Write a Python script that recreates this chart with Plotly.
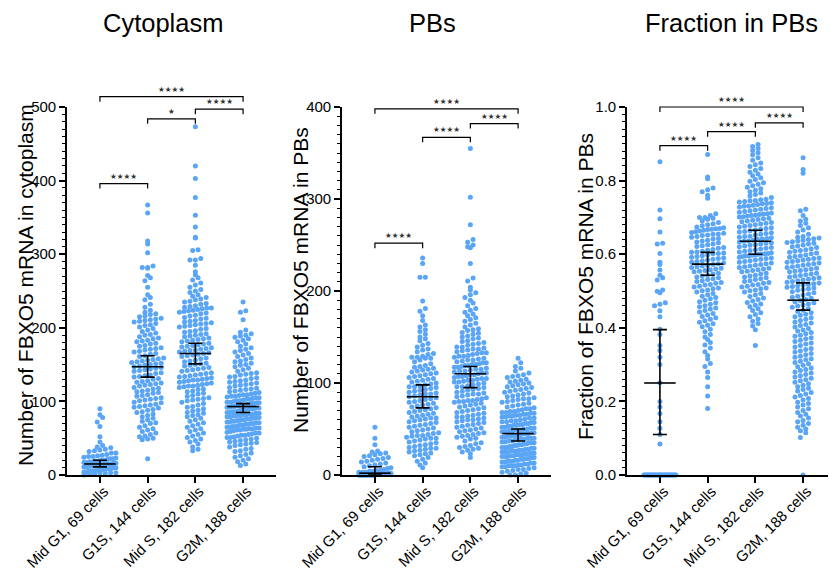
import plotly.graph_objects as go

# ---- data ----
groups = ["Mid G1, 69 cells", "G1S, 144 cells", "Mid S, 182 cells", "G2M, 188 cells"]

# Cytoplasm counts
cyto_mid_g1 = [90, 82, 78, 72, 66, 52, 45, 40, 38, 37, 35, 34, 33, 32, 30, 30, 28, 27, 26, 25, 25, 24, 23,
               22, 22, 21, 20, 20, 19, 19, 18, 18, 17, 17, 16, 16, 15, 15, 15, 14, 14, 13, 13, 12, 12, 11,
               11, 10, 10, 9, 9, 8, 8, 7, 7, 6, 6, 5, 5, 5, 4, 4, 3, 3, 2, 2, 1, 1, 0]
cyto_g1s = [367, 356, 318, 314, 302, 284, 282, 282, 281, 271, 268, 264, 255, 245, 241,
            238, 232, 228, 224, 221,
            219, 218, 216, 215, 213, 212, 211, 210, 209, 208, 206, 204, 203, 201,
            199, 197, 195, 193, 191, 190, 188, 186, 185, 183, 182, 181,
            179, 178, 176, 175, 173, 172, 171, 170, 168, 167, 165, 164, 162, 161,
            159, 158, 157, 156, 155, 154, 153, 152, 151, 150, 149, 148, 147, 146, 145, 144, 143, 142, 141,
            139, 138, 136, 135, 134, 133, 131, 130, 128, 127, 126, 125, 124, 123, 122, 121,
            119, 118, 117, 115, 114, 113, 112, 111, 109, 108, 107, 105, 104, 103, 102, 101,
            99, 98, 96, 95, 94, 93, 92, 91, 89, 88, 86, 85, 83, 81,
            79, 77, 75, 73, 71, 70, 67, 65, 63, 61,
            59, 57, 55, 53, 52, 50, 49, 48,
            22]
cyto_mid_s = [473, 420, 403, 377, 353, 337, 323, 322, 306, 305, 294, 292, 292, 285,
              276, 272, 268, 265, 261, 258, 255, 252, 250, 248, 245, 243, 241,
              239, 238, 236, 235, 233, 232, 230, 229, 228, 227, 227, 226, 225, 224, 223, 222, 221, 220,
              219, 217, 216, 214, 213, 212, 210, 209, 208, 207, 206, 205, 204, 203, 202, 201,
              199, 198, 196, 195, 194, 192, 191, 190, 189, 188, 186, 185, 184, 183, 182, 181,
              179, 178, 177, 176, 175, 174, 173, 172, 171, 170, 169, 168, 167, 166, 165, 164, 163, 162, 161,
              159, 158, 156, 155, 154, 152, 151, 150, 149, 148, 146, 145, 144, 143, 142, 141,
              139, 138, 137, 136, 135, 134, 133, 132, 131, 130, 129, 129, 128, 127, 126, 125, 124, 123,
              122, 121, 121, 120,
              119, 117, 116, 114, 113, 111, 110, 108, 107, 105, 104, 103, 102, 101,
              99, 97, 95, 93, 92, 90, 88, 87, 85, 84, 82, 81,
              79, 77, 75, 73, 71, 69, 67, 65, 63, 61,
              59, 57, 55, 53, 51, 49, 47, 45, 42,
              38, 35, 33]
cyto_g2m = [235, 223, 221, 211, 197, 194, 192, 190, 189, 187, 185, 183, 181, 178, 175, 173, 171,
            169, 167, 165, 163, 161, 159, 157, 155, 154, 152, 150, 149, 147, 145, 143, 141,
            139, 138, 137, 136, 134, 133, 132, 131, 129, 128, 127, 126, 125, 124, 123, 122, 121,
            119, 118, 117, 116, 115, 114, 113, 112, 111, 110,
            109, 109, 108, 107, 107, 106, 105, 105, 104, 103, 103, 102, 101, 101, 100,
            99, 99, 98, 98, 97, 97, 96, 96, 95, 95, 94, 94, 93, 93, 92, 92, 91, 91, 90, 90,
            89, 89, 88, 88, 87, 86, 86, 85, 85, 84, 84, 83, 83, 82, 82, 81, 81, 80,
            79, 79, 78, 78, 77, 77, 76, 76, 75, 75, 74, 74, 73, 73, 72, 72, 71, 71, 70, 70,
            69, 69, 68, 68, 67, 66, 66, 65, 65, 64, 64, 63, 63, 62, 62, 61, 61, 60,
            59, 58, 57, 57, 56, 55, 54, 54, 53, 52, 51, 51, 50,
            49, 48, 47, 46, 45, 44, 43, 42, 41, 40,
            38, 36, 35, 33, 32, 30, 28, 26, 24, 22, 20, 18, 15, 13]

# PB counts
pbs_mid_g1 = [52, 40, 33, 26, 25, 24, 23, 22, 21, 20, 19, 18, 17, 16, 15, 14, 13, 12, 11, 10, 9, 8, 7, 6,
              5, 5, 4, 4, 3, 3, 3, 2, 2, 2, 2,
              1, 1, 1, 1, 1, 1, 1, 1, 1, 1, 1, 1, 1, 1,
              0, 0, 0, 0, 0, 0, 0, 0, 0, 0, 0, 0, 0, 0, 0, 0, 0, 0, 0, 0]
pbs_g1s = [236, 230, 215, 215, 189, 181, 178, 173, 168, 163, 161,
           158, 156, 153, 150, 148, 146, 143, 141,
           139, 137, 136, 134, 132, 131, 129, 128, 128, 127, 127, 125, 123, 121,
           119, 118, 117, 116, 115, 114, 113, 112, 111, 110, 109, 108, 107, 106, 105, 104, 103, 102, 101, 100,
           99, 98, 97, 96, 96, 95, 94, 93, 92, 91, 90, 89, 88, 88, 87, 86, 85, 84, 83, 82, 81, 80,
           79, 78, 77, 76, 75, 74, 73, 72, 71, 70, 69, 68, 67, 66, 65, 64, 63, 62, 62, 61, 60,
           59, 58, 57, 56, 55, 54, 53, 52, 51, 50, 49, 48, 47, 46, 45, 44, 43, 43, 42, 41, 40, 40,
           39, 38, 37, 36, 35, 34, 33, 32, 31, 30, 29, 29, 28, 27, 26, 25, 24, 23, 22, 21,
           19, 17, 15, 13, 11, 8]
pbs_mid_s = [355, 302, 272, 256, 253, 250, 248, 247, 230, 214, 211, 204, 201,
             198, 196, 193, 190, 187, 184, 181,
             179, 177, 175, 173, 171, 169, 167, 165, 163, 161,
             159, 158, 157, 155, 154, 153, 151, 150, 149, 148, 146, 145, 144, 143, 142, 141,
             139, 139, 138, 137, 137, 136, 135, 134, 133, 133, 132, 131, 130, 129, 129, 128, 127, 126,
             125, 125, 124, 123, 122, 122, 121, 120, 120,
             119, 119, 118, 117, 117, 116, 115, 115, 114, 113, 113, 112, 111, 111, 110, 109, 109, 108,
             107, 107, 106, 105, 105, 104, 103, 103, 102, 101, 101, 100,
             99, 98, 97, 96, 96, 95, 94, 93, 92, 91, 90, 89, 88, 88, 87, 86, 85, 84, 83, 82, 81, 81, 80, 80,
             79, 78, 77, 76, 75, 74, 73, 72, 71, 70, 69, 68, 67, 66, 65, 64, 63, 63, 62, 61, 60, 60,
             59, 58, 57, 56, 55, 54, 53, 52, 51, 50, 49, 48, 47, 46, 45, 44, 43, 42, 41, 40,
             39, 37, 35, 34, 32, 31, 30, 29, 28, 27, 25, 23, 19]
pbs_g2m = [127, 122, 118, 116, 113, 111, 109, 108, 107, 106, 104, 103, 102, 101, 100,
           99, 98, 97, 96, 95, 94, 93, 92, 91, 90, 89, 88, 87, 86, 85, 84, 83, 83, 82, 81, 80,
           79, 78, 77, 76, 75, 74, 73, 72, 72, 71, 70,
           69, 69, 68, 68, 67, 67, 66, 66, 65, 65, 64, 64, 63, 63, 62, 62, 61, 60,
           59, 59, 58, 58, 57, 57, 56, 56, 55, 55, 54, 54, 53, 53, 52, 52, 51, 51, 50, 50,
           49, 49, 48, 48, 47, 47, 46, 46, 45, 45, 45, 44, 44, 43, 43, 42, 42, 41, 41, 40, 40, 40,
           39, 39, 38, 38, 37, 37, 36, 36, 35, 35, 35, 34, 34, 33, 33, 32, 32, 31, 31, 30, 30, 30,
           29, 29, 28, 28, 27, 27, 26, 26, 26, 25, 25, 25, 24, 24, 23, 23, 22, 22, 22, 21, 21, 20, 20, 20,
           19, 19, 18, 18, 17, 17, 16, 16, 15, 15, 15, 14, 14, 13, 13, 12, 12, 11, 11, 10, 10, 10,
           9, 9, 8, 7, 6, 6, 5, 4, 3, 2, 1, 0, 0]

# Fraction in PBs
frac_mid_g1 = [0.851, 0.72, 0.696, 0.66, 0.63, 0.628, 0.602, 0.578, 0.572, 0.557, 0.543, 0.536, 0.53,
               0.503, 0.499, 0.495, 0.468, 0.464, 0.46, 0.446, 0.43, 0.396, 0.382, 0.352, 0.338, 0.32,
               0.30, 0.251, 0.20, 0.185, 0.167, 0.145, 0.127, 0.11, 0.084,
               0, 0, 0, 0, 0, 0, 0, 0, 0, 0, 0, 0, 0, 0, 0, 0, 0, 0, 0, 0, 0, 0, 0, 0, 0, 0, 0, 0, 0, 0,
               0, 0, 0, 0]
frac_g1s = [0.871, 0.81, 0.805, 0.78, 0.775, 0.77, 0.76, 0.752, 0.71, 0.705, 0.70, 0.70,
            0.698, 0.695, 0.69, 0.686, 0.683, 0.68, 0.677, 0.674, 0.672, 0.67, 0.669, 0.668, 0.667, 0.665,
            0.663, 0.661, 0.659, 0.657, 0.655, 0.654, 0.652, 0.651,
            0.648, 0.646, 0.643, 0.641, 0.638, 0.636, 0.633, 0.631, 0.628, 0.626, 0.623, 0.621, 0.618,
            0.616, 0.613, 0.611, 0.608, 0.606, 0.605, 0.603, 0.602, 0.601,
            0.598, 0.596, 0.594, 0.592, 0.59, 0.588, 0.586, 0.584, 0.582, 0.58, 0.578, 0.576, 0.574,
            0.572, 0.57, 0.568, 0.566, 0.564, 0.562, 0.56, 0.558, 0.556, 0.554, 0.552,
            0.548, 0.546, 0.543, 0.541, 0.538, 0.536, 0.533, 0.531, 0.528, 0.526, 0.523, 0.521, 0.518,
            0.516, 0.513, 0.511, 0.508, 0.506, 0.503, 0.501,
            0.497, 0.493, 0.49, 0.486, 0.482, 0.479, 0.475, 0.471, 0.468, 0.464, 0.46, 0.457, 0.454, 0.451,
            0.447, 0.443, 0.439, 0.435, 0.431, 0.427, 0.423, 0.419, 0.415, 0.411, 0.407, 0.403,
            0.396, 0.389, 0.382, 0.375, 0.368, 0.36, 0.353,
            0.345, 0.335, 0.325, 0.315, 0.303, 0.295, 0.28, 0.265, 0.24, 0.215, 0.181]
frac_mid_s = [0.898, 0.893, 0.887, 0.882, 0.876, 0.87, 0.862, 0.855,
              0.848, 0.843, 0.838, 0.833, 0.828, 0.823, 0.818, 0.813, 0.808, 0.803,
              0.798, 0.794, 0.79, 0.786, 0.782, 0.778, 0.774, 0.77, 0.766, 0.762, 0.758, 0.754,
              0.749, 0.748, 0.746, 0.745, 0.743, 0.742, 0.74, 0.738, 0.737, 0.735, 0.733, 0.731, 0.73,
              0.728, 0.726, 0.724, 0.722, 0.72, 0.718, 0.716, 0.714, 0.712, 0.71, 0.709, 0.708, 0.706,
              0.705, 0.704, 0.702, 0.701,
              0.698, 0.696, 0.694, 0.692, 0.69, 0.688, 0.686, 0.684, 0.682, 0.68, 0.678, 0.676, 0.674,
              0.672, 0.67, 0.668, 0.666, 0.664, 0.662, 0.66, 0.658, 0.656, 0.654, 0.652,
              0.649, 0.648, 0.646, 0.645, 0.643, 0.641, 0.64, 0.638, 0.636, 0.635, 0.633, 0.631, 0.63,
              0.628, 0.626, 0.624, 0.622, 0.62, 0.618, 0.616, 0.614, 0.612, 0.61, 0.608, 0.606, 0.604,
              0.602, 0.601, 0.6, 0.6,
              0.598, 0.597, 0.596, 0.595, 0.594, 0.592, 0.59, 0.588, 0.586, 0.584, 0.582, 0.58, 0.578,
              0.576, 0.574, 0.572, 0.57, 0.568, 0.566, 0.564, 0.562, 0.56, 0.558, 0.556, 0.554, 0.552,
              0.548, 0.546, 0.543, 0.541, 0.538, 0.536, 0.533, 0.531, 0.528, 0.526, 0.523, 0.521, 0.518,
              0.516, 0.513, 0.511, 0.508, 0.506, 0.503, 0.501,
              0.497, 0.493, 0.489, 0.485, 0.481, 0.477, 0.473, 0.469, 0.465, 0.461, 0.457, 0.452,
              0.447, 0.441, 0.436, 0.43, 0.424, 0.418, 0.412, 0.405, 0.395, 0.352]
frac_g2m = [0.862, 0.83, 0.82, 0.722, 0.718, 0.705,
            0.695, 0.69, 0.684, 0.678, 0.672, 0.666, 0.66, 0.654,
            0.648, 0.646, 0.644, 0.642, 0.64, 0.638, 0.636, 0.634, 0.632, 0.63, 0.628, 0.625, 0.622,
            0.62, 0.618, 0.615, 0.612, 0.61, 0.608, 0.605, 0.603, 0.601,
            0.598, 0.596, 0.594, 0.592, 0.59, 0.588, 0.586, 0.584, 0.582, 0.58, 0.578, 0.576, 0.574,
            0.572, 0.57, 0.568, 0.566, 0.564, 0.562, 0.56, 0.558, 0.556, 0.554, 0.552,
            0.548, 0.546, 0.544, 0.542, 0.54, 0.538, 0.536, 0.534, 0.532, 0.53, 0.528, 0.526, 0.524,
            0.522, 0.52, 0.518, 0.516, 0.514, 0.512, 0.51, 0.508, 0.506, 0.504, 0.502,
            0.498, 0.495, 0.492, 0.489, 0.486, 0.483, 0.48, 0.477, 0.474, 0.471, 0.468, 0.465, 0.462,
            0.459, 0.456, 0.452,
            0.448, 0.444, 0.441, 0.437, 0.434, 0.43, 0.427, 0.423, 0.42, 0.416, 0.413, 0.409, 0.406, 0.402,
            0.398, 0.394, 0.391, 0.387, 0.384, 0.38, 0.377, 0.373, 0.37, 0.366, 0.363, 0.359, 0.356, 0.352,
            0.348, 0.344, 0.341, 0.337, 0.334, 0.33, 0.327, 0.323, 0.32, 0.316, 0.313, 0.309, 0.306, 0.302,
            0.298, 0.294, 0.291, 0.287, 0.284, 0.28, 0.277, 0.273, 0.27, 0.266, 0.263, 0.259, 0.256, 0.252,
            0.248, 0.244, 0.24, 0.236, 0.232, 0.228, 0.224, 0.22, 0.216, 0.212, 0.208, 0.204,
            0.198, 0.194, 0.19, 0.185, 0.18, 0.175, 0.17, 0.165, 0.16, 0.155,
            0.148, 0.145, 0.14, 0.135, 0.13, 0.125, 0.12, 0.115, 0.102, 0.0]

# centre line and interval
cyto_mid = [15, 147, 165, 93]
cyto_lo = [11, 133, 151, 85]
cyto_hi = [20, 162, 179, 97]
pbs_mid = [2, 85, 110, 45]
pbs_lo = [0, 73, 95, 37]
pbs_hi = [9, 98, 118, 50]
frac_mid = [0.25, 0.573, 0.635, 0.475]
frac_lo = [0.11, 0.543, 0.60, 0.448]
frac_hi = [0.395, 0.605, 0.665, 0.522]

# significance brackets: (from group, to group, level, label)
cyto_sig = [(0, 1, 396, "★★★★"), (1, 2, 484, "★"), (2, 3, 497, "★★★★"), (0, 3, 514, "★★★★")]
pbs_sig = [(0, 1, 252, "★★★★"), (1, 2, 367, "★★★★"), (2, 3, 382, "★★★★"), (0, 3, 398, "★★★★")]
frac_sig = [(0, 1, 0.895, "★★★★"), (1, 2, 0.933, "★★★★"), (2, 3, 0.957, "★★★★"), (0, 3, 1.0, "★★★★")]

panels = [
    dict(title="Cytoplasm", ylabel="Number of FBXO5 mRNA in cytoplasm",
         data=[cyto_mid_g1, cyto_g1s, cyto_mid_s, cyto_g2m], mid=cyto_mid, lo=cyto_lo, hi=cyto_hi,
         ymax=500, dtick=100, minor=10, fmt="d", sig=cyto_sig),
    dict(title="PBs", ylabel="Number of FBXO5 mRNA in PBs",
         data=[pbs_mid_g1, pbs_g1s, pbs_mid_s, pbs_g2m], mid=pbs_mid, lo=pbs_lo, hi=pbs_hi,
         ymax=400, dtick=100, minor=10, fmt="d", sig=pbs_sig),
    dict(title="Fraction in PBs", ylabel="Fraction of FBXO5 mRNA in PBs",
         data=[frac_mid_g1, frac_g1s, frac_mid_s, frac_g2m], mid=frac_mid, lo=frac_lo, hi=frac_hi,
         ymax=1.0, dtick=0.2, minor=0.02, fmt=".1f", sig=frac_sig),
]

# ---- layout geometry, in page pixels of the 836 x 573 window ----
PAGE_W, PAGE_H = 836, 573
BODY = 8  # default body margin of the html page
W, H = PAGE_W - BODY, PAGE_H - BODY
BOTTOM, TOP, EXT_TOP = 475, 107, 80
x_px = [(67, 276), (342, 551), (627, 836)]
title_x = [163, 433, 731]
ylab_x = [25, 300, 586]
ylab_y = [285, 280, 287]
XR = [-0.69, 3.69]
LABEL_UP, LABEL_RIGHT = -4, 4  # nudge of the slanted category labels (px)
DOT = 5.0
BLUE = "#5AA5F5"
FONT = "Liberation Sans, Arial, sans-serif"


def fx(px):
    return (px - BODY) / W


def fy(py):
    return 1 - (py - BODY) / H


def swarm(values, px_unit, px_cat, half_max=16.0):
    # GraphPad-like rows: points whose values fall in the same row sit side by side
    row_h = DOT / px_unit
    rows = {}
    for k, v in enumerate(values):
        rows.setdefault(int(round(v / row_h)), []).append(k)
    off = [0.0] * len(values)
    for idx in rows.values():
        n = len(idx)
        if n < 2:
            continue
        step = min(DOT + 0.4, 2 * half_max / (n - 1))
        idx.sort(key=lambda k: values[k])
        for j, k in enumerate(idx):
            off[k] = (j - (n - 1) / 2) * step / px_cat
    return off


fig = go.Figure()
y0, y1, yext = fy(BOTTOM), fy(TOP), fy(EXT_TOP)
layout = {}
annotations = []

for p, panel in enumerate(panels):
    n = p + 1
    xa = "x" if n == 1 else f"x{n}"
    ya = "y" if n == 1 else f"y{n}"
    yb = f"y{n + 3}"
    xl = f"x{n + 3}"
    px_unit = (BOTTOM - TOP) / panel["ymax"]
    px_cat = (x_px[p][1] - x_px[p][0]) / (XR[1] - XR[0])

    for g, vals in enumerate(panel["data"]):
        off = swarm(vals, px_unit, px_cat)
        fig.add_trace(go.Scatter(
            x=[g + o for o in off], y=vals, mode="markers", xaxis=xa, yaxis=ya,
            marker=dict(size=DOT, color=BLUE, line=dict(width=0)),
            cliponaxis=False, showlegend=False, hoverinfo="y"))

    # interval bars
    fig.add_trace(go.Scatter(
        x=list(range(4)), y=panel["mid"], mode="markers", xaxis=xa, yaxis=ya,
        marker=dict(size=1, color="rgba(0,0,0,0)"),
        error_y=dict(type="data", symmetric=False,
                     array=[h - m for h, m in zip(panel["hi"], panel["mid"])],
                     arrayminus=[m - l for m, l in zip(panel["mid"], panel["lo"])],
                     width=7, thickness=1.6, color="black"),
        cliponaxis=False, showlegend=False, hoverinfo="skip"))
    lx, ly = [], []
    for g, m in enumerate(panel["mid"]):
        lx += [g - 0.33, g + 0.33, None]
        ly += [m, m, None]
    fig.add_trace(go.Scatter(x=lx, y=ly, mode="lines", xaxis=xa, yaxis=ya,
                             line=dict(color="black", width=1.6),
                             showlegend=False, hoverinfo="skip"))

    # significance brackets on a taller invisible axis with the same scale
    drop = 5 / px_unit
    bx, by = [], []
    for a, b, lev, lab in panel["sig"]:
        bx += [a, a, b, b, None]
        by += [lev - drop, lev, lev, lev - drop, None]
        annotations.append(dict(x=(a + b) / 2, y=lev, xref=xa, yref=yb, text=lab, showarrow=False,
                                xanchor="center", yanchor="bottom", yshift=1,
                                font=dict(family="DejaVu Sans", size=7.5, color="#333333")))
    fig.add_trace(go.Scatter(x=bx, y=by, mode="lines", xaxis=xa, yaxis=yb,
                             line=dict(color="black", width=1.2),
                             showlegend=False, hoverinfo="skip"))

    # an empty trace so the label-only axis gets drawn
    fig.add_trace(go.Scatter(x=[0], y=[0], mode="markers", xaxis=xl, yaxis=ya,
                             marker=dict(size=1, opacity=0), showlegend=False, hoverinfo="skip"))

    ymax = panel["ymax"]
    shift = LABEL_RIGHT / px_cat
    layout["xaxis" if n == 1 else f"xaxis{n}"] = dict(
        domain=[fx(x_px[p][0]), min(1.0, fx(x_px[p][1]))], range=XR, anchor=ya,
        showgrid=False, zeroline=False,
        showline=True, linecolor="black", linewidth=1.6,
        ticks="outside", ticklen=6, tickwidth=1.6, tickcolor="black",
        tickvals=list(range(4)), showticklabels=False, automargin=False, fixedrange=True)
    layout[f"xaxis{n + 3}"] = dict(
        overlaying=xa, anchor="free", position=y0 + LABEL_UP / H,
        range=[XR[0] - shift, XR[1] - shift], showgrid=False, zeroline=False, showline=False,
        ticks="", tickvals=list(range(4)), ticktext=groups, tickangle=-45,
        tickfont=dict(family=FONT, size=15, color="black"), automargin=False, fixedrange=True)
    layout["yaxis" if n == 1 else f"yaxis{n}"] = dict(
        domain=[y0, y1], range=[0, ymax], anchor=xa, showgrid=False, zeroline=False,
        showline=True, linecolor="black", linewidth=1.6,
        ticks="outside", ticklen=6, tickwidth=1.6, tickcolor="black",
        dtick=panel["dtick"], tick0=0, tickformat=panel["fmt"],
        minor=dict(dtick=panel["minor"], ticks="outside", ticklen=3, tickwidth=1, tickcolor="black"),
        tickfont=dict(family=FONT, size=15, color="black"), automargin=False, fixedrange=True)
    layout[f"yaxis{n + 3}"] = dict(
        domain=[y0, yext], range=[0, ymax * (BOTTOM - EXT_TOP) / (BOTTOM - TOP)],
        anchor=xa, visible=False, fixedrange=True)

    annotations.append(dict(x=fx(title_x[p]), y=1.0, xref="paper", yref="paper",
                            text=panel["title"], showarrow=False, xanchor="center", yanchor="top",
                            borderpad=0,
                            font=dict(family=FONT, size=25.5, color="black")))
    annotations.append(dict(x=fx(ylab_x[p]), y=fy(ylab_y[p]), xref="paper", yref="paper",
                            text=panel["ylabel"], showarrow=False, textangle=-90,
                            xanchor="center", yanchor="middle",
                            font=dict(family=FONT, size=21, color="black")))

fig.update_layout(
    width=W, height=H, margin=dict(l=0, r=0, t=0, b=0),
    paper_bgcolor="white", plot_bgcolor="rgba(0,0,0,0)",
    annotations=annotations, **layout)

fig.write_html("out.html")
